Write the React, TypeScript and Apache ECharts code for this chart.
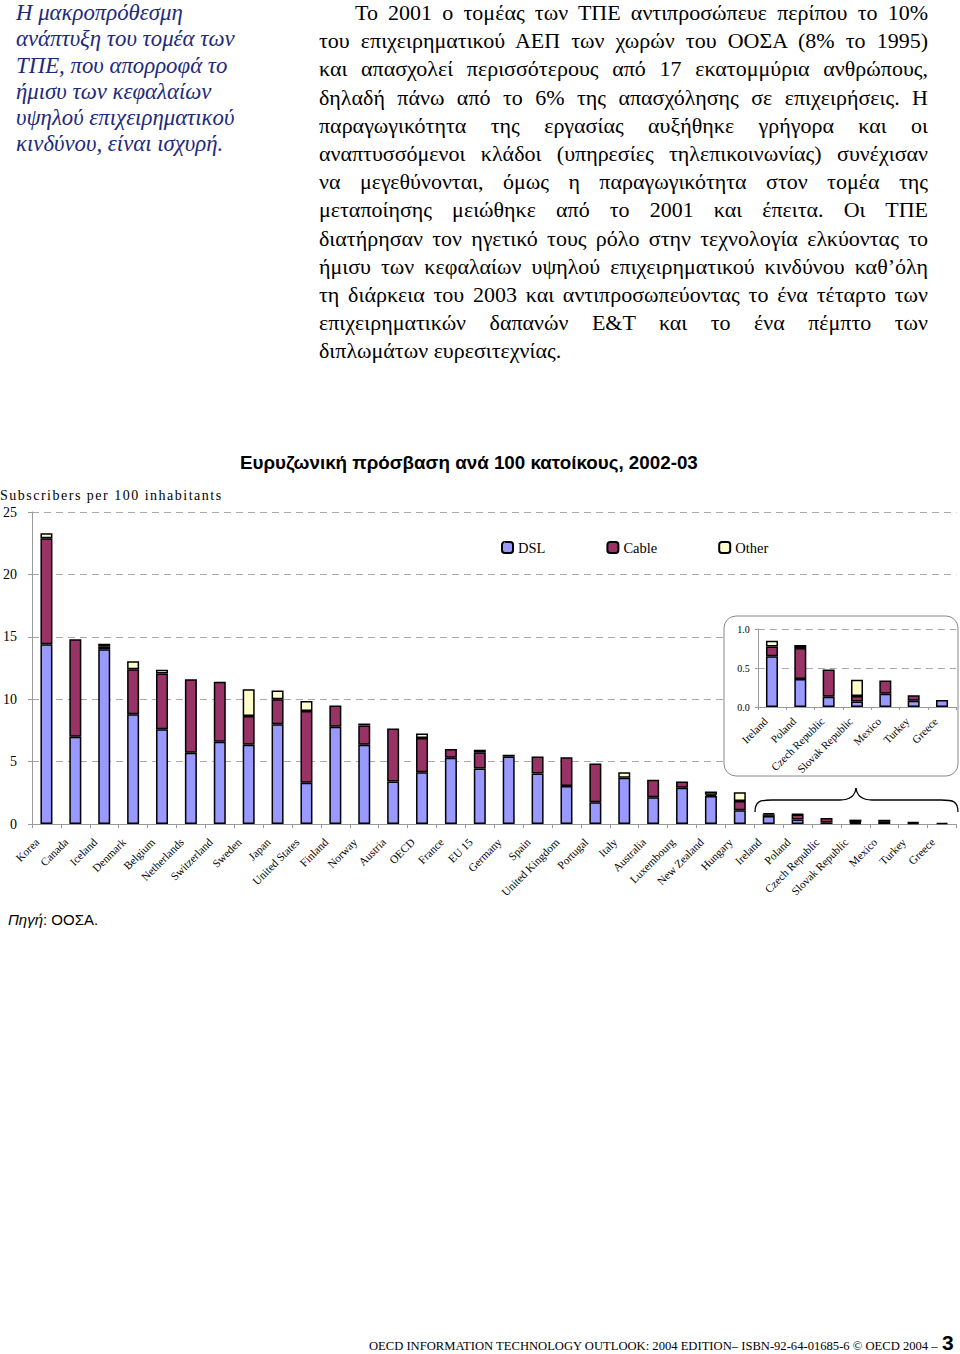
import React, { useEffect, useRef } from "react";
import * as echarts from "echarts";

const categories = [
  "Korea", "Canada", "Iceland", "Denmark", "Belgium", "Netherlands", "Switzerland", "Sweden",
  "Japan", "United States", "Finland", "Norway", "Austria", "OECD", "France", "EU 15",
  "Germany", "Spain", "United Kingdom", "Portugal", "Italy", "Australia", "Luxembourg",
  "New Zealand", "Hungary", "Ireland", "Poland", "Czech Republic", "Slovak Republic",
  "Mexico", "Turkey", "Greece",
];
const dsl = [14.4, 7.0, 14.0, 8.8, 7.6, 5.7, 6.6, 6.35, 8.0, 3.3, 7.8, 6.35, 3.4, 4.15, 5.3, 4.45,
  5.4, 4.05, 3.05, 1.75, 3.7, 2.15, 2.9, 2.25, 1.1, 0.65, 0.36, 0.13, 0.07, 0.17, 0.08, 0.09];
const cable = [8.5, 7.8, 0.2, 3.6, 4.45, 5.9, 4.8, 2.3, 2.0, 5.75, 1.7, 1.55, 4.25, 2.75, 0.7, 1.3,
  0.15, 1.35, 2.3, 3.1, 0, 1.4, 0.5, 0.1, 0.75, 0.125, 0.395, 0.35, 0.07, 0.17, 0.07, 0];
const other = [0.4, 0, 0.25, 0.65, 0.3, 0, 0, 2.15, 0.7, 0.8, 0, 0.15, 0, 0.35, 0, 0.2,
  0, 0, 0, 0, 0.45, 0, 0, 0.25, 0.7, 0.075, 0.04, 0, 0.21, 0, 0, 0];

const insetCategories = ["Ireland", "Poland", "Czech Republic", "Slovak Republic", "Mexico", "Turkey", "Greece"];
const insetDsl = [0.65, 0.36, 0.13, 0.07, 0.17, 0.08, 0.09];
const insetCable = [0.125, 0.395, 0.35, 0.07, 0.17, 0.07, 0];
const insetOther = [0.075, 0.04, 0, 0.21, 0, 0, 0];

const mainTicks = [0, 5, 10, 15, 20, 25];
const insetTicks = [0, 0.5, 1.0];

const seriesNames = ["DSL", "Cable", "Other"];
const seriesColors = ["#9999FF", "#993366", "#FFFFCC"];

const leftLines = [
  "Η μακροπρόθεσμη",
  "ανάπτυξη του τομέα των",
  "ΤΠΕ, που απορροφά το",
  "ήμισυ των κεφαλαίων",
  "υψηλού επιχειρηματικού",
  "κινδύνου, είναι ισχυρή.",
];
const rightLines = [
  "Το 2001 ο τομέας των ΤΠΕ αντιπροσώπευε περίπου το 10%",
  "του επιχειρηματικού ΑΕΠ των χωρών του ΟΟΣΑ (8% το 1995)",
  "και απασχολεί περισσότερους από 17 εκατομμύρια ανθρώπους,",
  "δηλαδή πάνω από το 6% της απασχόλησης σε επιχειρήσεις. Η",
  "παραγωγικότητα της εργασίας αυξήθηκε γρήγορα και οι",
  "αναπτυσσόμενοι κλάδοι (υπηρεσίες τηλεπικοινωνίας) συνέχισαν",
  "να μεγεθύνονται, όμως η παραγωγικότητα στον τομέα της",
  "μεταποίησης μειώθηκε από το 2001 και έπειτα. Οι ΤΠΕ",
  "διατήρησαν τον ηγετικό τους ρόλο στην τεχνολογία ελκύοντας το",
  "ήμισυ των κεφαλαίων υψηλού επιχειρηματικού κινδύνου καθ’όλη",
  "τη διάρκεια του 2003 και αντιπροσωπεύοντας το ένα τέταρτο των",
  "επιχειρηματικών δαπανών Ε&Τ και το ένα πέμπτο των",
  "διπλωμάτων ευρεσιτεχνίας.",
];

const SERIF = "'Liberation Serif', 'Times New Roman', serif";
const SANS = "'Liberation Sans', Arial, sans-serif";

function Chart() {
  const ref = useRef<HTMLDivElement>(null);
  useEffect(() => {
    if (!ref.current) return;
    const chart = echarts.init(ref.current, undefined, { renderer: "svg" });
    const nz = (v: number) => (v === 0 ? null : v);
    const mainData = [dsl, cable, other];
    const insetData = [insetDsl, insetCable, insetOther];
    const barStyle = (i: number) => ({ color: seriesColors[i], borderColor: "#000", borderWidth: 1.5 });
    const series: any[] = [];
    seriesNames.forEach((n, i) => {
      series.push({
        name: n, type: "bar", stack: "main", xAxisIndex: 0, yAxisIndex: 0,
        barWidth: 12, data: mainData[i].map(nz), itemStyle: barStyle(i), z: 2,
      });
    });
    seriesNames.forEach((n, i) => {
      series.push({
        name: n, type: "bar", stack: "inset", xAxisIndex: 1, yAxisIndex: 1,
        barWidth: 12, data: insetData[i].map(nz), itemStyle: barStyle(i), z: 5,
      });
    });
    const brace = { stroke: "#000", fill: "none", lineWidth: 1.3 };
    chart.setOption({
      animation: false,
      title: [
        {
          text: "Ευρυζωνική πρόσβαση ανά 100 κατοίκους, 2002-03",
          left: 240, top: 13, padding: 0,
          textStyle: { fontFamily: SANS, fontWeight: "bold", fontSize: 18.8, color: "#000" },
        },
      ],
      legend: {
        data: seriesNames, left: 501, top: 100, padding: 0,
        itemWidth: 11, itemHeight: 11, itemGap: 61,
        textStyle: { fontFamily: SERIF, fontSize: 14.5, color: "#000" },
      },
      grid: [
        { left: 30.5, right: 3.5, top: 72, bottom: 116 },
        { left: 757.8, right: 3.8, top: 189, bottom: 233 },
      ],
      xAxis: [
        {
          type: "category", data: categories, gridIndex: 0,
          axisLine: { lineStyle: { color: "#999", width: 1 } },
          axisTick: { show: true, length: 4, lineStyle: { color: "#999" } },
          axisLabel: { rotate: 45, interval: 0, fontSize: 11.3, fontFamily: SERIF, color: "#000", margin: 7, padding: [0, 13, 12, 0] },
        },
        {
          type: "category", data: insetCategories, gridIndex: 1, z: 3,
          axisLine: { lineStyle: { color: "#999", width: 1 } },
          axisTick: { show: true, length: 3, lineStyle: { color: "#999" } },
          axisLabel: { rotate: 45, interval: 0, fontSize: 11, fontFamily: SERIF, color: "#000", margin: 6, padding: [0, 9, 7, 0] },
        },
      ],
      yAxis: [
        {
          type: "value", gridIndex: 0, min: mainTicks[0], max: mainTicks[mainTicks.length - 1], interval: 5,
          axisLine: { show: true, lineStyle: { color: "#999", width: 1 } },
          axisTick: { show: true, length: 4, lineStyle: { color: "#999" } },
          axisLabel: { fontSize: 14, fontFamily: SERIF, color: "#000", margin: 15 },
          splitLine: { show: true, lineStyle: { color: "#aaa", type: [7, 5], width: 1 } },
        },
        {
          type: "value", gridIndex: 1, min: insetTicks[0], max: insetTicks[insetTicks.length - 1], interval: 0.5, z: 3,
          axisLine: { show: true, lineStyle: { color: "#999", width: 1 } },
          axisTick: { show: true, length: 3, lineStyle: { color: "#999" } },
          axisLabel: { fontSize: 10, fontFamily: SERIF, color: "#000", margin: 8, formatter: (v: number) => v.toFixed(1) },
          splitLine: { show: true, lineStyle: { color: "#aaa", type: [7, 5], width: 1 } },
        },
      ],
      graphic: [
        {
          type: "rect", z: 1, silent: true,
          shape: { x: 724, y: 176, width: 234, height: 160, r: 12 },
          style: { fill: "#fff", stroke: "#888", lineWidth: 1 },
        },
        { type: "bezierCurve", z: 1, shape: { x1: 755, y1: 372, x2: 772, y2: 360, cpx1: 755, cpy1: 361, cpx2: 760, cpy2: 360 }, style: brace },
        { type: "line", z: 1, shape: { x1: 772, y1: 360, x2: 840, y2: 360 }, style: brace },
        { type: "bezierCurve", z: 1, shape: { x1: 840, y1: 360, x2: 856, y2: 348, cpx1: 850, cpy1: 360, cpx2: 855, cpy2: 356 }, style: brace },
        { type: "bezierCurve", z: 1, shape: { x1: 856, y1: 348, x2: 872, y2: 360, cpx1: 857, cpy1: 356, cpx2: 862, cpy2: 360 }, style: brace },
        { type: "line", z: 1, shape: { x1: 872, y1: 360, x2: 941, y2: 360 }, style: brace },
        { type: "bezierCurve", z: 1, shape: { x1: 941, y1: 360, x2: 958, y2: 372, cpx1: 953, cpy1: 360, cpx2: 958, cpy2: 361 }, style: brace },
      ],
      series,
    });
    return () => chart.dispose();
  }, []);
  return <div ref={ref} style={{ position: "absolute", left: 0, top: 440, width: 960, height: 500 }} />;
}

export default function App() {
  return (
    <div style={{ position: "absolute", left: 0, top: 0, width: 960, height: 1354, background: "#fff", overflow: "hidden" }}>
      <div style={{ position: "absolute", left: 16, top: 0, fontFamily: SERIF, fontStyle: "italic", fontSize: 22.8, lineHeight: "26.3px", color: "#1E2A7E" }}>
        {leftLines.map((l, i) => (
          <div key={i} style={{ whiteSpace: "nowrap" }}>{l}</div>
        ))}
      </div>
      <div style={{ position: "absolute", left: 319, top: -1, width: 609, fontFamily: SERIF, fontSize: 22, lineHeight: "28.2px", color: "#000" }}>
        {rightLines.map((l, i) => {
          const last = i === rightLines.length - 1;
          return (
            <div key={i} style={{ textAlign: last ? "left" : "justify", textAlignLast: last ? "left" : "justify", textIndent: i === 0 ? 36 : 0 } as any}>
              {l}
            </div>
          );
        })}
      </div>
      <Chart />
      <div style={{ position: "absolute", left: 0, top: 488, fontFamily: SERIF, fontSize: 14, letterSpacing: "1.5px", color: "#000", whiteSpace: "nowrap" }}>
        Subscribers per 100 inhabitants
      </div>
      <div style={{ position: "absolute", left: 8, top: 911, fontFamily: SANS, fontSize: 15, color: "#000" }}>
        <i>Πηγή</i>: ΟΟΣΑ.
      </div>
      <div style={{ position: "absolute", left: 369, top: 1339, fontFamily: SERIF, fontSize: 12.6, lineHeight: "14px", color: "#000", whiteSpace: "nowrap" }}>
        OECD INFORMATION TECHNOLOGY OUTLOOK: 2004 EDITION– ISBN-92-64-01685-6 © OECD 2004 –
      </div>
      <div style={{ position: "absolute", left: 942, top: 1333, fontFamily: SANS, fontWeight: "bold", fontSize: 21, lineHeight: "20px", height: 20, color: "#000" }}>
        3
      </div>
    </div>
  );
}
